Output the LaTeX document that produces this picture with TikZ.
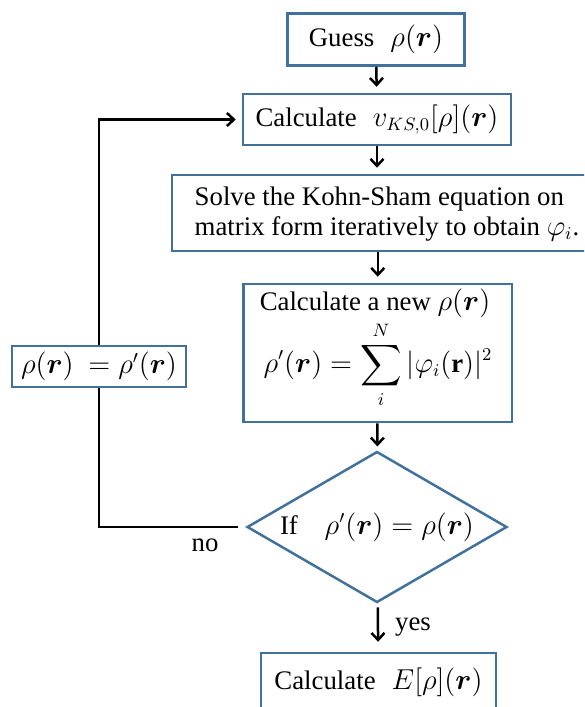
\documentclass[tikz,border=0pt]{standalone}
\usepackage{amsmath}
\usepackage{fontspec}
\setmainfont{Liberation Serif}
\usetikzlibrary{arrows.meta,shapes.geometric}
\definecolor{boxblue}{RGB}{65,113,156}
\tikzset{
  stepbox/.style={draw=boxblue, line width=1.25pt, inner sep=2pt},
  flow/.style={line width=1.25pt, -{Straight Barb[length=3.5pt,width=6.5pt]}},
  link/.style={line width=1.25pt},
}
\begin{document}
\begin{tikzpicture}[x=0.5pt, y=-0.5pt, font=\fontsize{13.4}{15}\selectfont]
	\useasboundingbox (0,0) rectangle (584,707);
	\clip (0,0) rectangle (584,707);
	% boxes
	\node[stepbox, minimum width=88.5pt, minimum height=26pt] (guess) at (376,39.5) {Guess\hspace{0.6em}$\rho(\boldsymbol{r})$};
	\node[stepbox, minimum width=134pt, minimum height=25.5pt] (calcv) at (377,119.5) {Calculate\hspace{0.6em}$v_{KS,0}[\rho](\boldsymbol{r})$};
	\node[stepbox, minimum width=209pt, minimum height=38pt] (solve) at (381,213) {};
	\node[align=left] (solvetext) at (387,214) {Solve the Kohn-Sham equation on\\matrix form iteratively to obtain $\varphi_i$.};
	\node[stepbox, minimum width=134.25pt, minimum height=69pt] (newrho) at (377.75,353) {};
	\node[inner sep=0pt] (newrhotext) at (375,303) {Calculate a new $\rho(\boldsymbol{r})$};
	\node[inner sep=0pt] (sumtext) at (378,365) {$\displaystyle\rho'(\boldsymbol{r}) = \sum_{i}^{N}|\varphi_i(\mathbf{r})|^2$};
	\node[stepbox, diamond, aspect=1.72, inner sep=0pt, minimum width=130pt, minimum height=75.5pt] (check) at (377,527) {If\hspace{1em}$\rho'(\boldsymbol{r}) = \rho(\boldsymbol{r})$};
	\node[stepbox, minimum width=87pt, minimum height=20.5pt] (update) at (99,366.5) {$\rho(\boldsymbol{r})\ = \rho'(\boldsymbol{r})$};
	\node[stepbox, minimum width=117.5pt, minimum height=31pt] (energy) at (378.5,684) {};
	\node (energytext) at (378.5,682) {Calculate\hspace{0.6em}$E[\rho](\boldsymbol{r})$};
	% labels
	\node (no) at (205,545) {no};
	\node (yes) at (413,627) {yes};
	% arrows
	\draw[flow, shorten >=3pt] (guess) -- (calcv);
	\draw[flow, shorten >=3pt] (calcv) -- (solve.north -| calcv);
	\draw[flow, shorten >=3pt] (solve.south -| newrho) -- (newrho);
	\draw[flow, shorten >=2pt] (newrho) -- (check);
	\draw[flow, shorten <=2pt, shorten >=5pt] (check) -- (energy);
	% loop back
	\draw[link, shorten <=4pt] (check.west) -| (update.south);
	\draw[flow, shorten >=3pt] (update.north) |- (calcv.west);
\end{tikzpicture}
\end{document}
